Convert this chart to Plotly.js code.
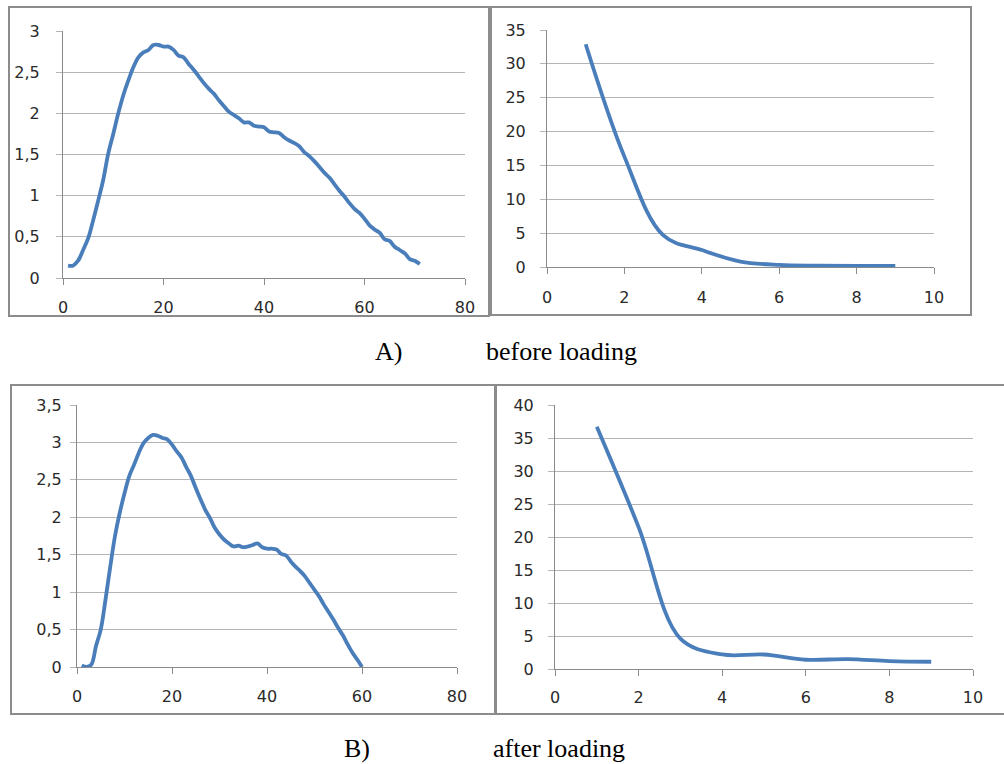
<!DOCTYPE html>
<html>
<head>
<meta charset="utf-8">
<script src="https://cdn.plot.ly/plotly-3.0.1.min.js"></script>
<style>
html,body{margin:0;padding:0;background:#fff;}
#chart{width:1004px;height:764px;}
</style>
</head>
<body>
<div id="chart"></div>
<script>
// ---- data ----
// Panel A-left: before loading
const xA1 = [];
for (let i = 1; i <= 71; i++) xA1.push(i);
const yA1 = [0.15,0.15,0.21,0.34,0.48,0.70,0.94,1.19,1.51,1.75,
             2.00,2.22,2.40,2.56,2.68,2.74,2.77,2.83,2.83,2.81,
             2.81,2.77,2.70,2.68,2.60,2.53,2.45,2.37,2.30,2.24,
             2.16,2.09,2.02,1.98,1.94,1.89,1.89,1.85,1.84,1.83,
             1.78,1.77,1.76,1.71,1.67,1.64,1.60,1.53,1.48,1.42,
             1.35,1.28,1.22,1.14,1.06,0.99,0.91,0.84,0.79,0.72,
             0.64,0.59,0.55,0.47,0.45,0.38,0.34,0.30,0.23,0.21,
             0.17];
// Panel A-right: before loading
const xA2 = [1,2,3,4,5,6,7,8,9];
const yA2 = [32.9,16.3,4.7,2.5,0.8,0.3,0.2,0.15,0.15];
// Panel B-left: after loading
const xB1 = [];
for (let i = 1; i <= 60; i++) xB1.push(i);
const yB1 = [0.02,0.00,0.03,0.28,0.50,0.90,1.34,1.75,2.06,2.32,
             2.55,2.70,2.86,2.99,3.06,3.10,3.09,3.06,3.04,2.97,
             2.88,2.80,2.67,2.55,2.39,2.24,2.10,1.99,1.86,1.77,
             1.70,1.65,1.61,1.62,1.60,1.61,1.63,1.65,1.60,1.58,
             1.58,1.57,1.51,1.49,1.41,1.34,1.28,1.21,1.12,1.03,
             0.94,0.83,0.73,0.63,0.52,0.42,0.30,0.19,0.10,0.00];
// Panel B-right: after loading
const xB2 = [1,2,3,4,5,6,7,8,9];
const yB2 = [36.7,21.5,4.6,2.2,2.2,1.4,1.5,1.2,1.1];

const captionLetters = ["A)", "B)"];
const captionTexts = ["before loading", "after loading"];

// ---- layout helpers ----
const W = 1004, H = 764;
const px = v => v / W;
const py = v => 1 - v / H;

const lineStyle = {color: '#4a7ebb', width: 3.8, shape: 'spline', smoothing: 1};
const tickFont = {family: 'DejaVu Sans, sans-serif', size: 16, color: '#2a2a2a'};

function mkTrace(x, y, xa, ya) {
  return {x: x, y: y, xaxis: xa, yaxis: ya, type: 'scatter', mode: 'lines',
          line: lineStyle, hoverinfo: 'skip', showlegend: false};
}

function xAxis(domain, range, dtick, anchor, standoff) {
  return {domain: domain, range: range, dtick: dtick, tick0: 0, anchor: anchor,
          showgrid: false, zeroline: false, showline: true, linecolor: '#8a8a8a', linewidth: 1,
          ticks: 'outside', ticklen: 6, tickcolor: '#8a8a8a', tickwidth: 1,
          tickfont: tickFont, ticklabelstandoff: standoff, fixedrange: true};
}
function yAxis(domain, range, dtick, anchor, standoff) {
  return {domain: domain, range: range, dtick: dtick, tick0: 0, anchor: anchor,
          showgrid: true, gridcolor: '#b4b4b4', gridwidth: 1,
          zeroline: false, showline: true, linecolor: '#8a8a8a', linewidth: 1,
          ticks: 'outside', ticklen: 6, tickcolor: '#b4b4b4', tickwidth: 1,
          tickfont: tickFont, ticklabelstandoff: standoff, fixedrange: true};
}

const data = [
  mkTrace(xA1, yA1, 'x', 'y'),
  mkTrace(xA2, yA2, 'x2', 'y2'),
  mkTrace(xB1, yB1, 'x3', 'y3'),
  mkTrace(xB2, yB2, 'x4', 'y4')
];

function box(x0, y0, x1, y1) {
  return {type: 'rect', xref: 'paper', yref: 'paper',
          x0: px(x0), x1: px(x1), y0: py(y1), y1: py(y0),
          line: {color: '#8c8c8c', width: 2}, fillcolor: 'rgba(0,0,0,0)', layer: 'above'};
}

const capFont = {family: 'Liberation Serif, Times New Roman, serif', size: 26, color: '#000'};
function cap(text, xLeft, yMid) {
  return {text: text, xref: 'paper', yref: 'paper', x: px(xLeft), y: py(yMid),
          xanchor: 'left', yanchor: 'middle', showarrow: false, font: capFont};
}
function capBottom(text, xLeft) {
  return {text: text, xref: 'paper', yref: 'paper', x: px(xLeft), y: 0,
          xanchor: 'left', yanchor: 'bottom', showarrow: false, font: capFont, borderpad: 0};
}

const layout = {
  width: W, height: H,
  margin: {l: 0, r: 0, t: 0, b: 0, pad: 0},
  paper_bgcolor: '#ffffff', plot_bgcolor: '#ffffff',
  separators: ',.',
  showlegend: false,
  xaxis:  xAxis([px(63), px(465)], [0, 80], 20, 'y', 9),
  yaxis:  yAxis([py(278), py(31)], [0, 3], 0.5, 'x', 13),
  xaxis2: xAxis([px(547), px(934)], [0, 10], 2, 'y2', 10),
  yaxis2: yAxis([py(267), py(30)], [0, 35], 5, 'x2', 11),
  xaxis3: xAxis([px(77), px(457)], [0, 80], 20, 'y3', 9),
  yaxis3: yAxis([py(667), py(405)], [0, 3.5], 0.5, 'x3', 5),
  xaxis4: xAxis([px(555), px(973)], [0, 10], 2, 'y4', 8),
  yaxis4: yAxis([py(669), py(405)], [0, 40], 5, 'x4', 11),
  shapes: [
    box(9, 7, 489, 316),
    box(491, 7, 971, 315),
    box(11, 385, 495, 714),
    box(496, 385, 1012, 714)
  ],
  annotations: [
    cap(captionLetters[0], 373, 351),
    cap(captionTexts[0], 484, 351),
    capBottom(captionLetters[1], 343),
    capBottom(captionTexts[1], 492)
  ]
};

Plotly.newPlot('chart', data, layout, {staticPlot: true, displayModeBar: false});
</script>
</body>
</html>
